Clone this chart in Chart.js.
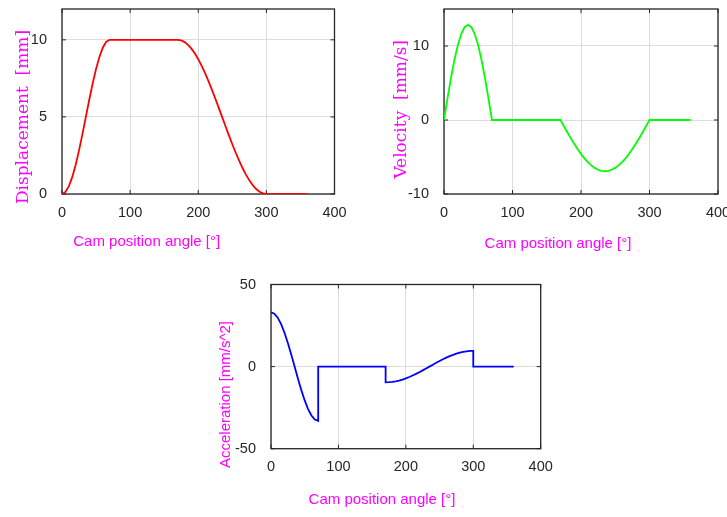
<!DOCTYPE html>
<html>
<head>
<meta charset="utf-8">
<script src="https://cdn.jsdelivr.net/npm/chart.js@4/dist/chart.umd.min.js"></script>
<style>
  html, body { margin: 0; padding: 0; background: #ffffff; }
  body { width: 727px; height: 517px; position: relative; overflow: hidden; }
  canvas { position: absolute; }
</style>
</head>
<body>
<canvas id="c1" width="350" height="262" style="left:0px;top:0px;width:350px;height:262px"></canvas>
<canvas id="c2" width="357" height="262" style="left:370px;top:0px;width:357px;height:262px"></canvas>
<canvas id="c3" width="370" height="255" style="left:190px;top:262px;width:370px;height:255px"></canvas>
<script>
// ---- data ----
const angle = [0,5,10,15,20,25,30,35,40,45,50,55,60,65,70,
  75,80,85,90,95,100,105,110,115,120,125,130,135,140,145,150,155,160,165,170,
  175,180,185,190,195,200,205,210,215,220,225,230,235,240,245,250,255,260,265,270,275,280,285,290,295,300,
  305,310,315,320,325,330,335,340,345,350,355,360];

const displacement = [0,0.125,0.495,1.091,1.883,2.830,3.887,5,6.113,7.170,8.117,8.909,9.505,9.875,10,
  10,10,10,10,10,10,10,10,10,10,10,10,10,10,10,10,10,10,10,10,
  9.963,9.855,9.675,9.427,9.115,8.743,8.315,7.840,7.323,6.773,6.196,5.602,5,4.398,3.804,3.227,2.677,2.160,1.685,1.257,0.885,0.573,0.325,0.145,0.037,0,
  0,0,0,0,0,0,0,0,0,0,0,0];

const velocity = [0,2.861,5.580,8.018,10.054,11.587,12.537,12.86,12.537,11.587,10.054,8.018,5.580,2.861,0,
  0,0,0,0,0,0,0,0,0,0,0,0,0,0,0,0,0,0,0,0,
  -0.834,-1.657,-2.455,-3.217,-3.933,-4.591,-5.182,-5.698,-6.130,-6.473,-6.722,-6.873,-6.923,-6.873,-6.722,-6.473,-6.130,-5.698,-5.182,-4.591,-3.933,-3.217,-2.455,-1.657,-0.834,0,
  0,0,0,0,0,0,0,0,0,0,0,0];

const accelAngle = [0,5,10,15,20,25,30,35,40,45,50,55,60,65,70,
  70,75,80,85,90,95,100,105,110,115,120,125,130,135,140,145,150,155,160,165,170,
  170,175,180,185,190,195,200,205,210,215,220,225,230,235,240,245,250,255,260,265,270,275,280,285,290,295,300,
  300,305,310,315,320,325,330,335,340,345,350,355,360];

const acceleration = [33.06,32.23,29.79,25.85,20.61,14.34,7.36,0,-7.36,-14.34,-20.61,-25.85,-29.79,-32.23,-33.06,
  0,0,0,0,0,0,0,0,0,0,0,0,0,0,0,0,0,0,0,0,0,
  -9.586,-9.516,-9.307,-8.963,-8.489,-7.889,-7.175,-6.357,-5.446,-4.455,-3.399,-2.294,-1.155,0,1.155,2.294,3.399,4.455,5.446,6.357,7.175,7.889,8.489,8.963,9.307,9.516,9.586,
  0,0,0,0,0,0,0,0,0,0,0,0,0];

const xTicks = [0, 100, 200, 300, 400];
const xTitle = 'Cam position angle [°]';
const dispTitle = 'Displacement  [mm]';
const velTitle = 'Velocity  [mm/s]';
const accTitle = 'Acceleration [mm/s^2]';

// ---- helpers ----
Chart.defaults.font.family = "'Liberation Sans', Arial, sans-serif";
const TICK_COLOR = '#262626';
const TITLE_COLOR = '#ff00ff';

function pts(xs, ys) { return xs.map((x, i) => ({x: x, y: ys[i]})); }

const framePlugin = {
  id: 'frame',
  beforeDatasetsDraw(chart) {
    const {ctx, chartArea: a, scales} = chart;
    ctx.save();
    ctx.strokeStyle = '#262626';
    ctx.lineWidth = 1.3;
    ctx.strokeRect(a.left, a.top, a.right - a.left, a.bottom - a.top);
    const L = 4;
    ctx.lineWidth = 1;
    ctx.beginPath();
    scales.x.ticks.forEach(t => {
      const px = scales.x.getPixelForValue(t.value);
      ctx.moveTo(px, a.bottom); ctx.lineTo(px, a.bottom - L);
      ctx.moveTo(px, a.top); ctx.lineTo(px, a.top + L);
    });
    scales.y.ticks.forEach(t => {
      const py = scales.y.getPixelForValue(t.value);
      ctx.moveTo(a.left, py); ctx.lineTo(a.left + L, py);
      ctx.moveTo(a.right, py); ctx.lineTo(a.right - L, py);
    });
    ctx.stroke();
    ctx.restore();
  }
};

const labelPlugin = {
  id: 'axisLabels',
  afterDraw(chart, args, opts) {
    const ctx = chart.ctx;
    (opts.items || []).forEach(l => {
      ctx.save();
      ctx.font = l.font;
      ctx.fillStyle = TITLE_COLOR;
      ctx.textAlign = 'center';
      ctx.textBaseline = 'alphabetic';
      ctx.translate(l.x, l.y);
      if (l.rotate) ctx.rotate(-Math.PI / 2);
      ctx.fillText(l.text, 0, 0);
      ctx.restore();
    });
  }
};

function makeChart(id, cfg) {
  return new Chart(document.getElementById(id), {
    type: 'line',
    data: {
      datasets: [{
        data: pts(cfg.xs, cfg.ys),
        borderColor: cfg.color,
        borderWidth: 1.8,
        pointRadius: 0,
        pointHoverRadius: 0,
        tension: 0,
        fill: false
      }]
    },
    options: {
      responsive: false,
      animation: false,
      events: [],
      layout: { padding: cfg.padding },
      plugins: {
        legend: { display: false },
        tooltip: { enabled: false },
        axisLabels: { items: cfg.labels }
      },
      scales: {
        x: {
          type: 'linear',
          min: 0, max: 400,
          afterBuildTicks: s => { s.ticks = xTicks.map(v => ({value: v})); },
          afterFit: s => { s.height = cfg.xHeight; s.paddingLeft = 0; s.paddingRight = 0; s.paddingTop = 0; s.paddingBottom = 0; },
          grid: { color: '#dcdcdc', lineWidth: 1, drawTicks: false },
          border: { display: false },
          ticks: { color: TICK_COLOR, font: { size: 14.5 }, padding: 10, maxRotation: 0, autoSkip: false }
        },
        y: {
          type: 'linear',
          min: cfg.yMin, max: cfg.yMax,
          afterBuildTicks: s => { s.ticks = cfg.yTicks.map(v => ({value: v})); },
          afterFit: s => { s.width = cfg.yWidth; s.paddingLeft = 0; s.paddingRight = 0; s.paddingTop = 0; s.paddingBottom = 0; },
          grid: { color: '#dcdcdc', lineWidth: 1, drawTicks: false },
          border: { display: false },
          ticks: { color: TICK_COLOR, font: { size: 14.5 }, padding: 15 }
        }
      }
    },
    plugins: [framePlugin, labelPlugin]
  });
}

makeChart('c1', {
  xs: angle, ys: displacement, color: '#ff0000',
  yMin: 0, yMax: 12, yTicks: [0, 5, 10],
  padding: { left: 0, top: 9, right: 15.5, bottom: 0 },
  yWidth: 62, xHeight: 68,
  labels: [
    { text: dispTitle, font: "17px 'DejaVu Serif', serif", x: 28, y: 117, rotate: true },
    { text: xTitle, font: "15px 'Liberation Sans', Arial, sans-serif", x: 146.7, y: 246 }
  ]
});

makeChart('c2', {
  xs: angle, ys: velocity, color: '#00ff00',
  yMin: -10, yMax: 15, yTicks: [-10, 0, 10],
  padding: { left: 0, top: 9, right: 9, bottom: 0 },
  yWidth: 74, xHeight: 68,
  labels: [
    { text: velTitle, font: "17px 'DejaVu Serif', serif", x: 35.7, y: 109.3, rotate: true },
    { text: xTitle, font: "15px 'Liberation Sans', Arial, sans-serif", x: 188, y: 248 }
  ]
});

makeChart('c3', {
  xs: accelAngle, ys: acceleration, color: '#0000ff',
  yMin: -50, yMax: 50, yTicks: [-50, 0, 50],
  padding: { left: 0, top: 22.5, right: 19.3, bottom: 0 },
  yWidth: 81, xHeight: 68.3,
  labels: [
    { text: accTitle, font: "15px 'Liberation Sans', Arial, sans-serif", x: 40, y: 132.5, rotate: true },
    { text: xTitle, font: "15px 'Liberation Sans', Arial, sans-serif", x: 192, y: 242 }
  ]
});
</script>
</body>
</html>
